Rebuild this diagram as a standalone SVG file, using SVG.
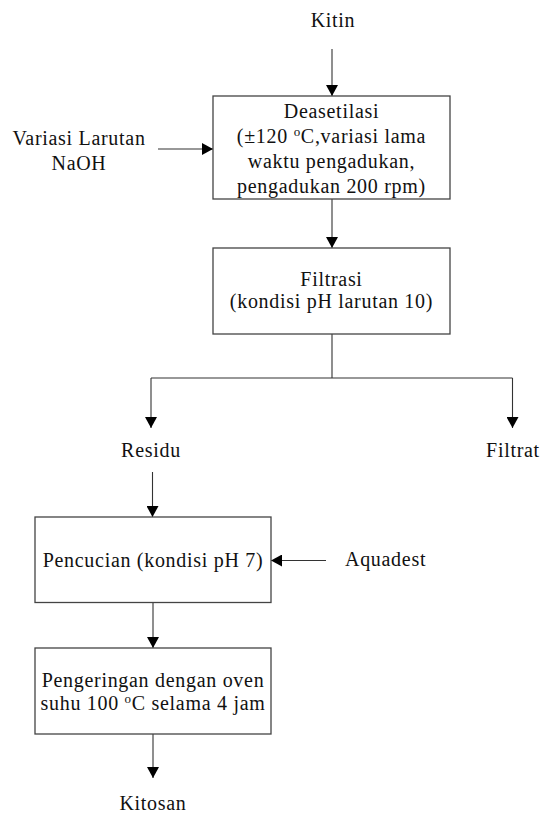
<svg xmlns="http://www.w3.org/2000/svg" width="542" height="816" viewBox="0 0 542 816">
<style>
text{font-family:"Liberation Serif","Times New Roman",serif;font-size:20px;letter-spacing:0.7px;fill:#111}
.m{text-anchor:middle}
.box{fill:#fff;stroke:#444;stroke-width:1.3}
.c{fill:none;stroke:#333;stroke-width:1.1}
.sup{font-size:13px}
</style>
<defs>
<marker id="ah" markerUnits="userSpaceOnUse" markerWidth="12" markerHeight="12" viewBox="0 0 11 12" refX="11" refY="6" orient="auto">
<path d="M0,0 L11,6 L0,12 z" fill="#000"/>
</marker>
</defs>
<rect width="542" height="816" fill="#fff"/>
<g id="connectors">
<path class="c" d="M332,49 V96" marker-end="url(#ah)"/>
<path class="c" d="M158,149 H213" marker-end="url(#ah)"/>
<path class="c" d="M332,199 V248" marker-end="url(#ah)"/>
<path class="c" d="M332,334 V378 M151,378 H512.5"/>
<path class="c" d="M151,378 V428" marker-end="url(#ah)"/>
<path class="c" d="M512.5,378 V428" marker-end="url(#ah)"/>
<path class="c" d="M152.5,472 V517" marker-end="url(#ah)"/>
<path class="c" d="M326,560.5 H271" marker-end="url(#ah)"/>
<path class="c" d="M153,602.5 V648" marker-end="url(#ah)"/>
<path class="c" d="M153,734 V778" marker-end="url(#ah)"/>
</g>
<g id="kitin"><text class="m" x="333" y="27">Kitin</text></g>
<g id="naoh">
<text class="m" x="79" y="145">Variasi Larutan</text>
<text class="m" x="79" y="170">NaOH</text>
</g>
<g id="deasetilasi">
<rect class="box" x="213" y="96" width="237" height="103"/>
<text class="m" x="331.5" y="118">Deasetilasi</text>
<text class="m" x="331.5" y="143">(±120 <tspan class="sup" dy="-7">o</tspan><tspan dy="7">C,variasi lama</tspan></text>
<text class="m" x="331.5" y="168">waktu pengadukan,</text>
<text class="m" x="331.5" y="193">pengadukan 200 rpm)</text>
</g>
<g id="filtrasi">
<rect class="box" x="213" y="248" width="237" height="86"/>
<text class="m" x="331.5" y="286">Filtrasi</text>
<text class="m" x="331.5" y="308">(kondisi pH larutan 10)</text>
</g>
<g id="residu"><text class="m" x="151" y="457">Residu</text></g>
<g id="filtrat"><text class="m" x="513" y="457">Filtrat</text></g>
<g id="pencucian">
<rect class="box" x="35" y="517" width="236" height="85.5"/>
<text class="m" x="153" y="567">Pencucian (kondisi pH 7)</text>
</g>
<g id="aquadest"><text x="345" y="566">Aquadest</text></g>
<g id="pengeringan">
<rect class="box" x="35" y="648" width="236" height="86"/>
<text class="m" x="153" y="687">Pengeringan dengan oven</text>
<text class="m" x="153" y="710">suhu 100 <tspan class="sup" dy="-7">o</tspan><tspan dy="7">C selama 4 jam</tspan></text>
</g>
<g id="kitosan"><text class="m" x="153" y="810">Kitosan</text></g>
</svg>
